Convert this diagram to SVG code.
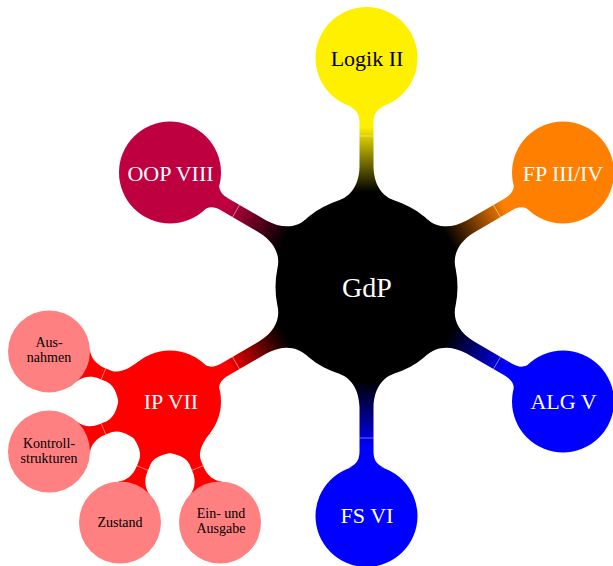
<svg xmlns="http://www.w3.org/2000/svg" width="613" height="566" viewBox="0 0 613 566">
<style>
text{font-family:"Liberation Serif","Times New Roman",serif;text-anchor:middle}
.l1{font-size:22px;fill:#fff}
.dark{fill:#000}
.root{font-size:28px;fill:#fff}
.l2{font-size:14px;fill:#000}
.seam{stroke:#fff;stroke-opacity:0.55;stroke-width:0.8}
</style>
<defs>
<path id="bar1" d="M86.5 28.1 C90.2 16.7 101 7.5 120 7 L164 7 C172 7 177.5 9.5 180.5 17.4 L180.5 -17.4 C177.5 -9.5 172 -7 164 -7 L120 -7 C101 -7.5 90.2 -16.7 86.5 -28.1 Z"/>
<path id="bar2" d="M44.2 25.5 C49.2 16.8 56 6.5 66 6 L74 6 C82 6 90.4 10 93.8 17.3 L93.8 -17.3 C90.4 -10 82 -6 74 -6 L66 -6 C56 -6.5 49.2 -16.8 44.2 -25.5 Z"/>
<linearGradient id="gY" gradientUnits="userSpaceOnUse" x1="95" y1="0" x2="160" y2="0"><stop offset="0" stop-color="#000"/><stop offset="1" stop-color="#fff000"/></linearGradient>
<linearGradient id="gO" gradientUnits="userSpaceOnUse" x1="95" y1="0" x2="160" y2="0"><stop offset="0" stop-color="#000"/><stop offset="1" stop-color="#ff8000"/></linearGradient>
<linearGradient id="gB" gradientUnits="userSpaceOnUse" x1="95" y1="0" x2="160" y2="0"><stop offset="0" stop-color="#000"/><stop offset="1" stop-color="#0000ff"/></linearGradient>
<linearGradient id="gR" gradientUnits="userSpaceOnUse" x1="95" y1="0" x2="160" y2="0"><stop offset="0" stop-color="#000"/><stop offset="1" stop-color="#ff0000"/></linearGradient>
<linearGradient id="gP" gradientUnits="userSpaceOnUse" x1="95" y1="0" x2="160" y2="0"><stop offset="0" stop-color="#000"/><stop offset="1" stop-color="#bf0040"/></linearGradient>
</defs>
<g id="connectors">
<g transform="translate(366.5 287) rotate(-90)"><use href="#bar1" fill="url(#gY)"/><line class="seam" x1="151" y1="-7" x2="151" y2="7"/></g>
<g transform="translate(366.5 287) rotate(-30.23)"><use href="#bar1" fill="url(#gO)"/><line class="seam" x1="151" y1="-7" x2="151" y2="7"/></g>
<g transform="translate(366.5 287) rotate(30.23)"><use href="#bar1" fill="url(#gB)"/><line class="seam" x1="151" y1="-7" x2="151" y2="7"/></g>
<g transform="translate(366.5 287) rotate(90)"><use href="#bar1" fill="url(#gB)"/><line class="seam" x1="151" y1="-7" x2="151" y2="7"/></g>
<g transform="translate(366.5 287) rotate(149.77)"><use href="#bar1" fill="url(#gR)"/><line class="seam" x1="151" y1="-7" x2="151" y2="7"/></g>
<g transform="translate(366.5 287) rotate(-149.77)"><use href="#bar1" fill="url(#gP)"/><line class="seam" x1="151" y1="-7" x2="151" y2="7"/></g>
<g transform="translate(170 401.5) rotate(-157.5)"><use href="#bar2" fill="#ff0000"/><line class="seam" x1="72" y1="-6" x2="72" y2="6"/></g>
<g transform="translate(170 401.5) rotate(157.5)"><use href="#bar2" fill="#ff0000"/><line class="seam" x1="72" y1="-6" x2="72" y2="6"/></g>
<g transform="translate(170 401.5) rotate(112.5)"><use href="#bar2" fill="#ff0000"/><line class="seam" x1="72" y1="-6" x2="72" y2="6"/></g>
<g transform="translate(170 401.5) rotate(67.5)"><use href="#bar2" fill="#ff0000"/><line class="seam" x1="72" y1="-6" x2="72" y2="6"/></g>
</g>
<g id="gdp"><circle cx="366.5" cy="287" r="91" fill="#000"/><text class="root" x="367" y="296.5">GdP</text></g>
<g id="logik"><circle cx="366.5" cy="58" r="51" fill="#fff000"/><text class="l1 dark" x="367" y="66">Logik II</text></g>
<g id="fp"><circle cx="563" cy="172.5" r="51" fill="#ff8000"/><text class="l1" x="563" y="180.5">FP III/IV</text></g>
<g id="alg"><circle cx="563" cy="401.5" r="51" fill="#0000ff"/><text class="l1" x="563.5" y="409">ALG V</text></g>
<g id="fs"><circle cx="366.5" cy="516" r="51" fill="#0000ff"/><text class="l1" x="367" y="523">FS VI</text></g>
<g id="ip"><circle cx="170" cy="401.5" r="51" fill="#ff0000"/><text class="l1" x="171" y="409">IP VII</text></g>
<g id="oop"><circle cx="170" cy="172.5" r="51" fill="#bf0040"/><text class="l1" x="170.5" y="181">OOP VIII</text></g>
<g id="ausnahmen"><circle cx="49" cy="351.4" r="41" fill="#ff8080"/><text class="l2" x="49" y="347">Aus-</text><text class="l2" x="49" y="362">nahmen</text></g>
<g id="kontroll"><circle cx="49" cy="451.6" r="41" fill="#ff8080"/><text class="l2" x="49" y="448">Kontroll-</text><text class="l2" x="49" y="462.5">strukturen</text></g>
<g id="zustand"><circle cx="120" cy="522.5" r="41" fill="#ff8080"/><text class="l2" x="120" y="527">Zustand</text></g>
<g id="einausgabe"><circle cx="220" cy="522.5" r="41" fill="#ff8080"/><text class="l2" x="221" y="518">Ein- und</text><text class="l2" x="221" y="533">Ausgabe</text></g>
</svg>
